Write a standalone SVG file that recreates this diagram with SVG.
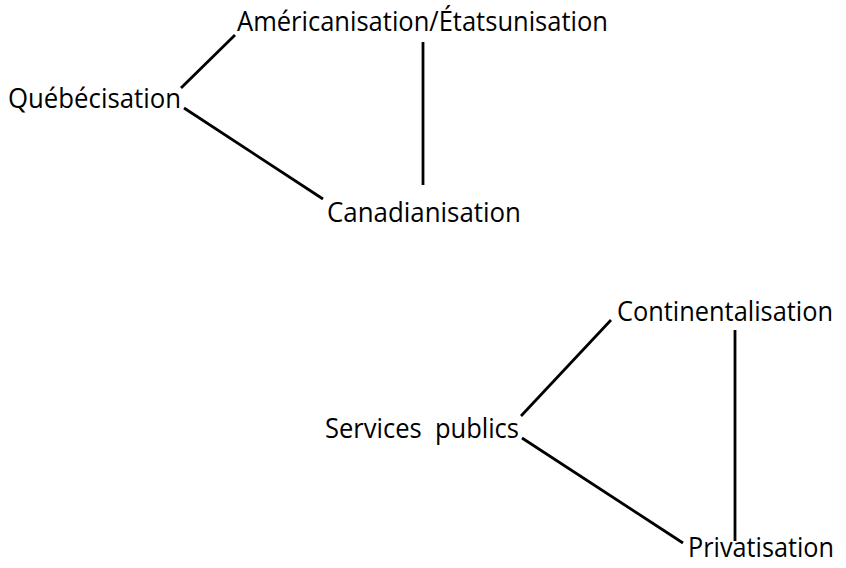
<svg xmlns="http://www.w3.org/2000/svg" width="846" height="568" viewBox="0 0 846 568">
<style>
text{font-family:"Open Sans","Noto Sans","Liberation Sans",sans-serif;font-size:27px;fill:#000}
.c line{stroke:#000;stroke-width:2.8;stroke-linecap:butt}
</style>
<rect width="846" height="568" fill="#fff"/>
<g class="c" id="connectors">
<line x1="181" y1="88" x2="235" y2="35"/>
<line x1="184" y1="108" x2="323" y2="199"/>
<line x1="423" y1="42" x2="423" y2="185"/>
<line x1="521" y1="416" x2="611" y2="320"/>
<line x1="522" y1="438" x2="683" y2="543"/>
<line x1="735" y1="330" x2="735" y2="541"/>
</g>
<g id="n-americanisation"><text x="237" y="31" textLength="371" lengthAdjust="spacingAndGlyphs">Américanisation/Étatsunisation</text></g>
<g id="n-quebecisation"><text x="8" y="108" textLength="173" lengthAdjust="spacingAndGlyphs">Québécisation</text></g>
<g id="n-canadianisation"><text x="327" y="222" textLength="194" lengthAdjust="spacingAndGlyphs">Canadianisation</text></g>
<g id="n-continentalisation"><text x="617" y="321" textLength="216" lengthAdjust="spacingAndGlyphs">Continentalisation</text></g>
<g id="n-services"><text x="325" y="438" textLength="194" lengthAdjust="spacingAndGlyphs">Services&#160; publics</text></g>
<g id="n-privatisation"><text x="688" y="557" textLength="146" lengthAdjust="spacingAndGlyphs">Privatisation</text></g>
</svg>
